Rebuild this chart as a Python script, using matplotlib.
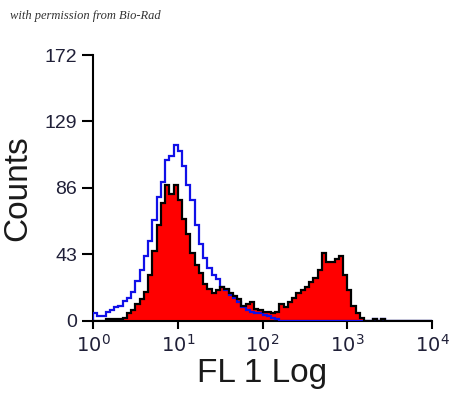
"""
Flow cytometry overlay histogram: stained sample (red fill, black edge)
over the isotype control (blue line), FL 1 on a log scale.
"""

import numpy as np
import matplotlib
matplotlib.use("Agg")
import matplotlib.pyplot as plt

# ── Data (counts per channel, channels 0.05 decade wide from 10^0 to 10^4) ────

DECADE_START = 0.0
BIN_WIDTH = 0.05

sample_counts = [
    0, 0, 0, 1, 1, 1, 1, 2, 5, 7,
    11, 14, 19, 30, 45, 62, 76, 88, 82, 88,
    78, 66, 56, 44, 36, 31, 24, 21, 18, 20,
    22, 21, 18, 16, 14, 10, 11, 12, 8, 7,
    6, 6, 5, 6, 11, 9, 12, 15, 18, 20,
    22, 25, 28, 33, 44, 38, 38, 40, 42, 30,
    20, 10, 5, 2, 0, 0, 1, 0, 1, 0,
    0, 0, 0, 0, 0, 0, 0, 0, 0, 0,
]

control_counts = [
    5, 3, 3, 6, 7, 9, 10, 13, 15, 19,
    26, 33, 42, 52, 65, 80, 90, 104, 107, 114,
    110, 100, 88, 78, 62, 50, 41, 34, 30, 27,
    22, 20, 17, 15, 12, 9, 7, 6, 5, 5,
    4, 3, 2, 1, 0, 0, 0, 0, 0, 0,
    0, 0, 0, 0, 0, 0, 0, 0, 0, 0,
    0, 0, 0, 0, 0, 0, 1, 0, 1, 0,
    0, 0, 0, 0, 0, 0, 0, 0, 0, 0,
]

y_ticks = [0, 43, 86, 129, 172]
x_ticks = [1, 10, 100, 1000, 10000]
x_tick_labels = [r"$10^{0}$", r"$10^{1}$", r"$10^{2}$", r"$10^{3}$", r"$10^{4}$"]

edges = 10 ** (DECADE_START + BIN_WIDTH * np.arange(len(sample_counts) + 1))

# ── Plot ──────────────────────────────────────────────────────────────────────

plt.rcParams["font.family"] = ["Liberation Sans", "DejaVu Sans"]

fig = plt.figure(figsize=(4.5, 3.98), dpi=100)
ax = fig.add_axes([0.2067, 0.1935, 0.7533, 0.6683])

ax.stairs(sample_counts, edges, fill=True, color="#ff0000", zorder=2)
ax.stairs(control_counts, edges, color="#1010e8", linewidth=1.6, zorder=3)
ax.stairs(sample_counts, edges, color="black", linewidth=1.6, zorder=4)

ax.set_xscale("log")
ax.set_xlim(1, 10000)
ax.set_ylim(0, 172)
ax.set_xticks(x_ticks)
ax.set_xticklabels(x_tick_labels)
ax.minorticks_off()
ax.set_yticks(y_ticks)

for side in ("top", "right"):
    ax.spines[side].set_visible(False)
for side in ("left", "bottom"):
    ax.spines[side].set_linewidth(1.5)

ax.tick_params(axis="y", direction="out", length=8, width=1.5, pad=3.5,
               labelsize=14, labelcolor="#202038")
ax.tick_params(axis="x", direction="out", length=6, width=1.5, pad=3,
               labelsize=14, labelcolor="#202038")

ax.set_xlabel("FL 1 Log", fontsize=24, labelpad=2, color="#1a1a1a")
ax.set_ylabel("Counts", fontsize=24, labelpad=8, color="#1a1a1a")

fig.text(0.022, 0.96, "with permission from Bio-Rad", fontsize=9,
         family="Liberation Serif", style="italic", va="center", ha="left",
         color="#333333")

fig.savefig("out.png", dpi=100)
plt.close(fig)
